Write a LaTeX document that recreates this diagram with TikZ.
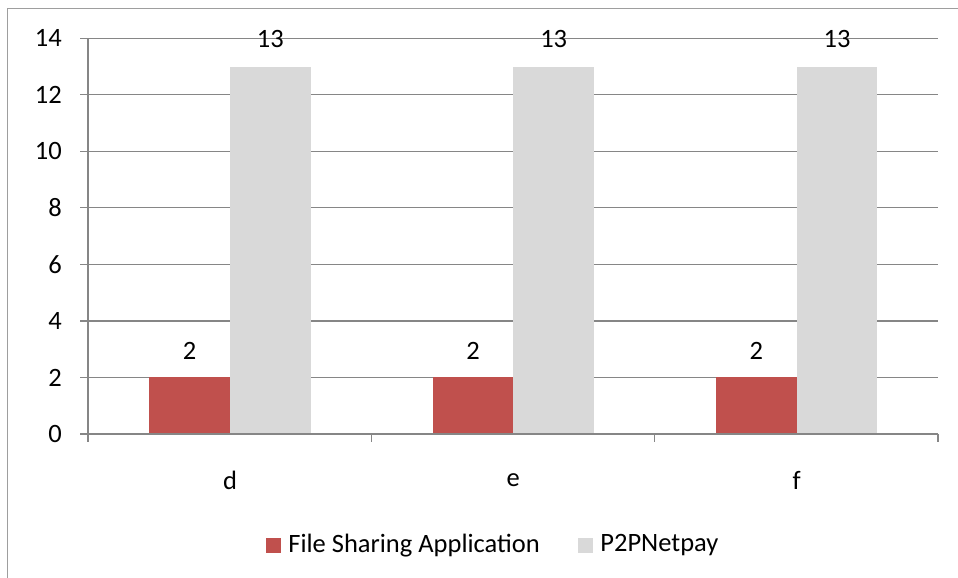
\documentclass[tikz,border=0pt]{standalone}
\usepackage{fontspec}
\setmainfont{Carlito}
\usetikzlibrary{positioning}
\definecolor{barred}{RGB}{192,80,77}
\definecolor{bargrey}{RGB}{217,217,217}
\definecolor{axisgrey}{RGB}{134,134,134}

\begin{document}
\begin{tikzpicture}[x=1pt,y=1pt,font=\fontsize{26.5}{30}\selectfont,
  frame/.style={draw=axisgrey!80,line width=1.2pt},
  gridline/.style={draw=axisgrey,line width=1.1pt},
  barfile/.style={fill=barred,draw=none},
  barnet/.style={fill=bargrey,draw=none},
  vallabel/.style={inner sep=0pt,anchor=center},
  ticklabel/.style={inner sep=0pt,anchor=east},
  keybox/.style={minimum size=15pt,inner sep=0pt}]
\useasboundingbox (0,0) rectangle (958,578);
% outer frame, cut off at right and bottom
\draw[frame] (7.5,569.5) rectangle (975,-20);
\begin{scope}[shift={(88,144)},y=28.26pt]
  % grid and y labels
  \foreach \v in {2,4,...,14}
    \draw[gridline] (-8pt,\v) -- (850,\v);
  \foreach \v in {0,2,...,14}
    \node[ticklabel] (y\v) at (-26,\v) {\v};
  % bars
  \foreach \lab [count=\i] in {d,e,f}{
    \pgfmathsetmacro{\xa}{283.33*(\i-1)+61.3}
    \fill[barfile] (\xa,0) rectangle ++(80.7,2);
    \fill[barnet] (\xa+80.7,0) rectangle ++(80.7,13);
    \node[vallabel,yshift=27pt] (a\i) at (\xa+40.35,2) {2};
    \node[vallabel,yshift=28pt] (b\i) at (\xa+121.05,13) {13};
    \node[vallabel,yshift=-46pt] (c\i) at (\xa+80.7,0) {\lab};
  }
  % axes
  \draw[gridline] (0,0) -- (0,14);
  \draw[gridline] (-8pt,0) -- (850,0);
  \foreach \t in {0,283.33,566.67,850}
    \draw[gridline] (\t,0) -- ++(0,-8pt);
\end{scope}
% legend
\node[keybox,fill=barred] (k1) at (273.5,32.5) {};
\node[right=7pt of k1,inner sep=0pt] (l1) {File Sharing Application};
\node[keybox,fill=bargrey] (k2) at (585.5,32.5) {};
\node[right=7pt of k2,inner sep=0pt] (l2) {P2PNetpay};
\end{tikzpicture}
\end{document}
